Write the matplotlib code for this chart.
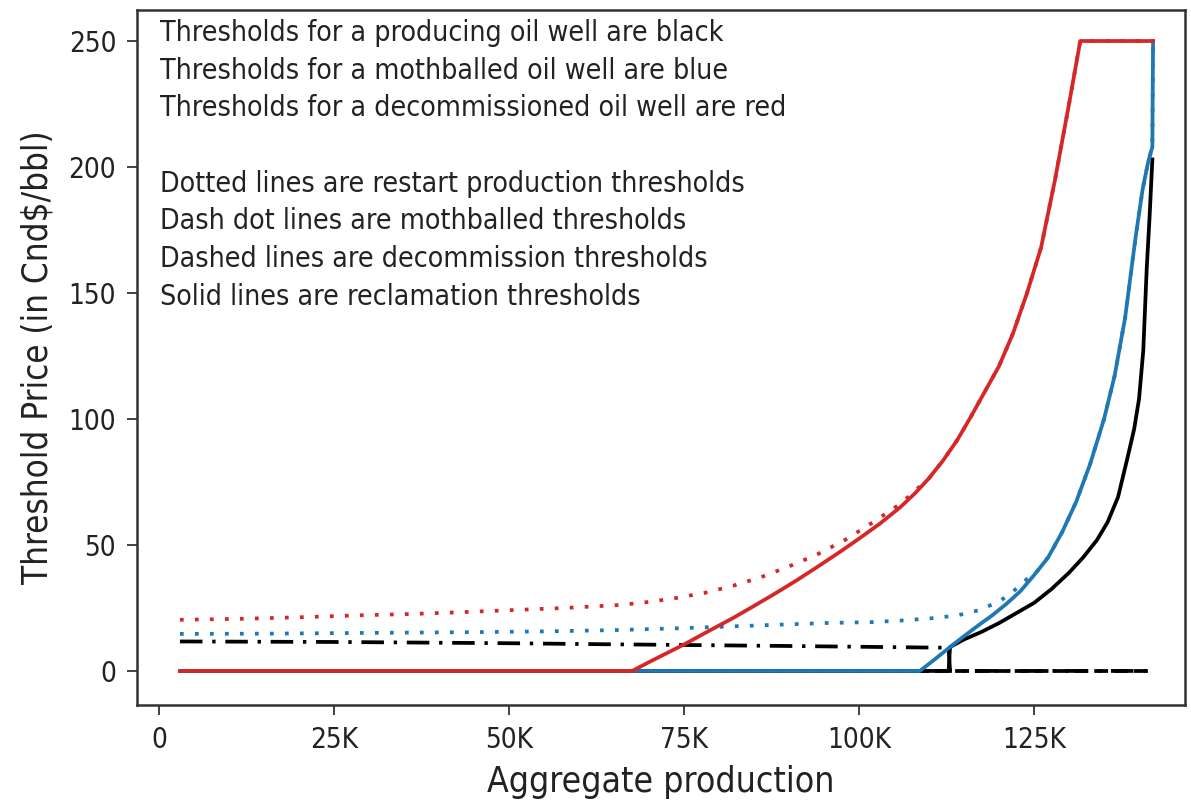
import matplotlib
matplotlib.use("Agg")
import matplotlib.pyplot as plt
from matplotlib.ticker import FuncFormatter, FixedLocator

# ---- data (x in thousands of units of aggregate production) ----
red_solid_x = [3, 67.6, 70, 72.5, 75, 78.3, 82, 85, 87.7, 91, 94, 97.3, 100, 103, 105.9,
               108, 110, 112, 114, 116, 118, 120, 122, 124, 126, 128, 130, 131.6, 142]
red_solid_y = [0, 0, 3.5, 7, 10.5, 15.5, 21, 25.8, 30.2, 35.8, 41.2, 47.3, 52.5, 58.5, 65,
               70.5, 76.5, 83.5, 91.5, 101, 111, 121, 134, 150, 168, 195, 225, 250, 250]

red_dot_x = [3, 12, 20, 29, 36, 43, 50, 58, 66, 70, 74, 78, 82, 86, 90, 94, 98, 102, 106,
             110, 112, 114, 116, 118, 120, 122, 124, 126, 128, 130, 131.6, 142]
red_dot_y = [20.3, 20.7, 21.3, 22.1, 22.6, 23.3, 24.1, 25.0, 26.2, 27.4, 29, 31, 33.8, 37.2,
             41.5, 46.2, 52, 59, 66.5, 76.5, 83.5, 91.5, 101, 111, 121, 134, 150, 168, 195, 225, 250, 250]

blue_solid_x = [3, 108.7, 111, 113, 115, 117, 119, 121, 123, 125, 127, 129, 131, 133, 135,
                136.5, 138, 139.5, 140.5, 141.3, 141.9, 142]
blue_solid_y = [0, 0, 5, 9.5, 13.8, 18, 22, 26.5, 31.5, 38, 45, 55, 67, 82, 100,
                117, 140, 172, 191, 202, 208, 250]

blue_dot_x = [3, 15, 25, 35, 45, 55, 65, 75, 85, 95, 102, 106, 110, 114, 117, 120, 122, 124,
              125, 127, 129, 131, 133, 135, 136.5, 138, 139.5, 140.5, 141.3, 141.9, 142]
blue_dot_y = [14.7, 14.8, 15.0, 15.2, 15.4, 15.7, 16.2, 17.0, 18.0, 19.0, 19.4, 20.0, 20.8,
              22.0, 24.0, 27.5, 31.5, 36.5, 38, 45, 55, 67, 82, 100, 117, 140, 172, 191, 202, 208, 250]

black_solid_x = [3, 112.8, 113, 115, 117.5, 120, 122.5, 125, 127.5, 130, 132, 134, 135.5, 137,
                 138.3, 139.3, 140, 140.6, 141.1, 141.5, 141.9]
black_solid_y = [0, 0, 9.5, 12.5, 15.5, 19, 23, 27, 32.5, 39, 45, 52, 59, 69,
                 84, 96, 108, 127, 160, 180, 203]

black_dashdot_x = [3, 25, 50, 60, 75, 90, 100, 112.8, 113, 142]
black_dashdot_y = [11.7, 11.5, 11.0, 10.7, 10.3, 9.9, 9.6, 9.2, 0, 0]

black_dash_x = [3, 142]
black_dash_y = [0, 0]

x_ticks = [0, 25000, 50000, 75000, 100000, 125000]
y_ticks = [0, 50, 100, 150, 200, 250]

note_lines = [
    "Thresholds for a producing oil well are black",
    "Thresholds for a mothballed oil well are blue",
    "Thresholds for a decommissioned oil well are red",
    "",
    "Dotted lines are restart production thresholds",
    "Dash dot lines are mothballed thresholds",
    "Dashed lines are decommission thresholds",
    "Solid lines are reclamation thresholds",
]

plt.rcParams["font.family"] = ["DejaVu Sans"]
plt.rcParams["font.stretch"] = "condensed"

RED = "#d62728"
BLUE = "#1f77b4"
BLACK = "#000000"
LW = 2.7
DOT = (0, (1, 3))
DASHDOT = (0, (6, 2.6, 0.9, 2.6))

def k(xs):
    return [v * 1000 for v in xs]

fig = plt.figure(figsize=(11.91, 8.02), dpi=100)
ax = fig.add_axes([0.115, 0.121, 0.880, 0.8665])

ax.plot(k(black_dash_x), black_dash_y, color=BLACK, lw=LW, ls="--")
ax.plot(k(black_dashdot_x), black_dashdot_y, color=BLACK, lw=LW, ls=DASHDOT)
ax.plot(k(black_solid_x), black_solid_y, color=BLACK, lw=LW)
ax.plot(k(blue_dot_x), blue_dot_y, color=BLUE, lw=LW, ls=DOT)
ax.plot(k(blue_solid_x), blue_solid_y, color=BLUE, lw=LW)
ax.plot(k(red_dot_x), red_dot_y, color=RED, lw=LW, ls=DOT)
ax.plot(k(red_solid_x), red_solid_y, color=RED, lw=LW)

ax.set_xlim(-3140, 146570)
ax.set_ylim(-13.5, 262.3)
ax.xaxis.set_major_locator(FixedLocator(x_ticks))
ax.yaxis.set_major_locator(FixedLocator(y_ticks))
ax.xaxis.set_major_formatter(FuncFormatter(lambda v, p: "0" if v == 0 else f"{int(v/1000)}K"))

for s in ax.spines.values():
    s.set_color("#333333")
    s.set_linewidth(1.8)
ax.tick_params(axis="both", which="major", length=7, width=1.3, color="#333333",
               labelsize=20, labelcolor="#222222", pad=8)

ax.set_xlabel("Aggregate production", fontsize=25.5, color="#222222", labelpad=8)
ax.set_ylabel("Threshold Price (in Cnd$/bbl)", fontsize=25, color="#222222", labelpad=10)

ax.text(0.022, 0.987, "\n".join(note_lines), transform=ax.transAxes, ha="left", va="top",
        fontsize=20.4, color="#222222", linespacing=1.44)

fig.savefig("out.png", dpi=100)
